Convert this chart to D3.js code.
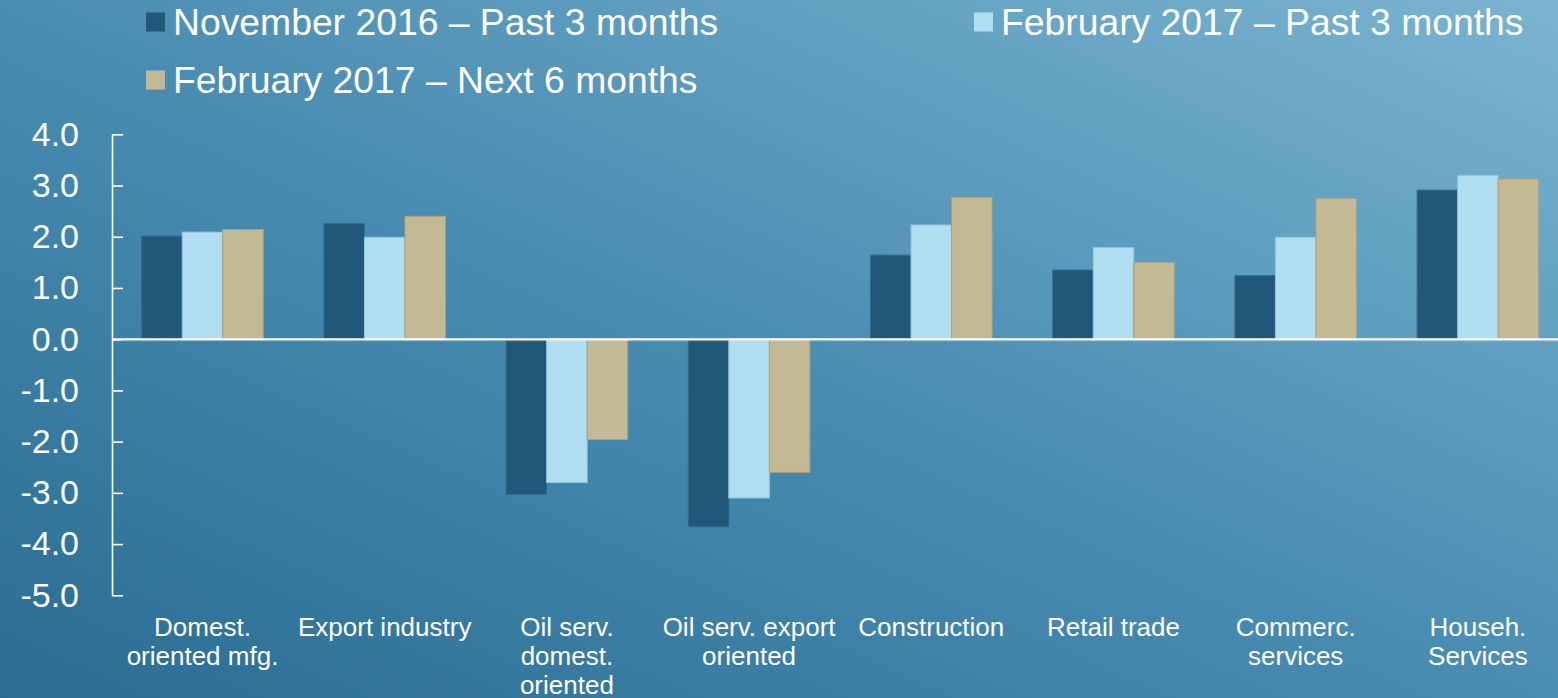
<!DOCTYPE html>
<html>
<head>
<meta charset="utf-8">
<script src="https://cdn.jsdelivr.net/npm/d3@7/dist/d3.min.js"></script>
<style>
  html, body { margin: 0; padding: 0; background: #3f82a7; }
  svg { display: block; }
  text { font-family: "Liberation Sans", Arial, sans-serif; fill: #ffffff; }
</style>
</head>
<body>
<svg id="chart" width="1558" height="698"></svg>
<script>
const categories = [
  "Domest.\noriented mfg.",
  "Export industry",
  "Oil serv.\ndomest.\noriented",
  "Oil serv. export\noriented",
  "Construction",
  "Retail trade",
  "Commerc.\nservices",
  "Househ.\nServices"
];
const seriesNames = [
  "November 2016 \u2013 Past 3 months",
  "February 2017 \u2013 Past 3 months",
  "February 2017 \u2013 Next 6 months"
];
const nov2016Past3 = [2.01, 2.26, -3.03, -3.66, 1.64, 1.35, 1.24, 2.91];
const feb2017Past3 = [2.09, 1.99, -2.80, -3.10, 2.23, 1.79, 1.99, 3.20];
const feb2017Next6 = [2.14, 2.40, -1.96, -2.60, 2.77, 1.50, 2.75, 3.13];
const yTicks = [-5, -4, -3, -2, -1, 0, 1, 2, 3, 4];
const seriesColors = ["#21587a", "#b0def0", "#c3b994"];
const seriesStrokes = ["#2f6a8e", "#8fc6de", "#ad9f7c"];

const seriesValues = [nov2016Past3, feb2017Past3, feb2017Next6];
const W = 1558, H = 698;
const svg = d3.select("#chart");

// background gradient
const defs = svg.append("defs");
const grad = defs.append("linearGradient").attr("id", "bg")
  .attr("x1", "0").attr("y1", "1").attr("x2", "1").attr("y2", "0");
grad.append("stop").attr("offset", "0%").attr("stop-color", "#2a6c92");
grad.append("stop").attr("offset", "50%").attr("stop-color", "#4a8db2");
grad.append("stop").attr("offset", "100%").attr("stop-color", "#7ab4d0");
svg.append("rect").attr("width", W).attr("height", H).attr("fill", "url(#bg)");

const y = d3.scaleLinear().domain([-5, 4]).range([595.3, 134.3]);
const x0 = d3.scaleBand().domain(categories).range([111.4, 1569])
  .paddingInner(0.333).paddingOuter(0.1665);
const x1 = d3.scaleBand().domain(d3.range(seriesNames.length)).range([0, x0.bandwidth()]);

// bars
const groups = svg.append("g").selectAll("g").data(categories).join("g")
  .attr("transform", d => `translate(${x0(d)},0)`);
groups.selectAll("rect")
  .data((d, i) => seriesValues.map((vals, s) => ({ s, v: vals[i] })))
  .join("rect")
  .attr("x", d => x1(d.s))
  .attr("width", x1.bandwidth())
  .attr("y", d => y(Math.max(0, d.v)))
  .attr("height", d => Math.abs(y(d.v) - y(0)))
  .attr("fill", d => seriesColors[d.s])
  .attr("stroke", d => seriesStrokes[d.s])
  .attr("stroke-width", 1);

// y axis
const fmt = d3.format(".1f");
const yAxis = d3.axisLeft(y).tickValues(yTicks)
  .tickFormat(d => fmt(d).replace("\u2212", "-"))
  .tickSize(-11).tickSizeOuter(0).tickPadding(33);
const ya = svg.append("g").attr("transform", "translate(112,0)").call(yAxis);
ya.select(".domain").attr("stroke", "#ffffff").attr("stroke-width", 1.6);
ya.selectAll(".tick line").attr("stroke", "#ffffff").attr("stroke-width", 1.6);
ya.selectAll(".tick text")
  .attr("font-size", 34)
  .attr("font-family", "Liberation Sans, Arial, sans-serif")
  .attr("fill", "#ffffff");

// zero line
svg.append("line").attr("x1", 112).attr("x2", W)
  .attr("y1", y(0) + 1.5).attr("y2", y(0) + 1.5)
  .attr("stroke", "#ffffff").attr("stroke-opacity", 0.35).attr("stroke-width", 1);
svg.append("line").attr("x1", 112).attr("x2", W)
  .attr("y1", y(0)).attr("y2", y(0))
  .attr("stroke", "#ffffff").attr("stroke-width", 2);

// x labels
const xl = svg.append("g").selectAll("text").data(categories).join("text")
  .attr("text-anchor", "middle")
  .attr("font-size", 26)
  .attr("x", d => x0(d) + x0.bandwidth() / 2)
  .attr("y", 636);
xl.selectAll("tspan").data(d => d.split("\n")).join("tspan")
  .attr("x", function() { return this.parentNode.getAttribute("x"); })
  .attr("dy", (d, i) => i === 0 ? 0 : 29)
  .text(d => d);

// legend
const legendPos = [
  { x: 146, y: 22 },
  { x: 974, y: 22 },
  { x: 146, y: 80 }
];
const lg = svg.append("g").selectAll("g").data(seriesNames).join("g")
  .attr("transform", (d, i) => `translate(${legendPos[i].x},${legendPos[i].y})`);
lg.append("rect").attr("x", 0).attr("y", -9.5).attr("width", 19).attr("height", 19)
  .attr("fill", (d, i) => seriesColors[i]);
lg.append("text").attr("x", 27).attr("y", 13).attr("font-size", 37.3).text(d => d);
</script>
</body>
</html>
